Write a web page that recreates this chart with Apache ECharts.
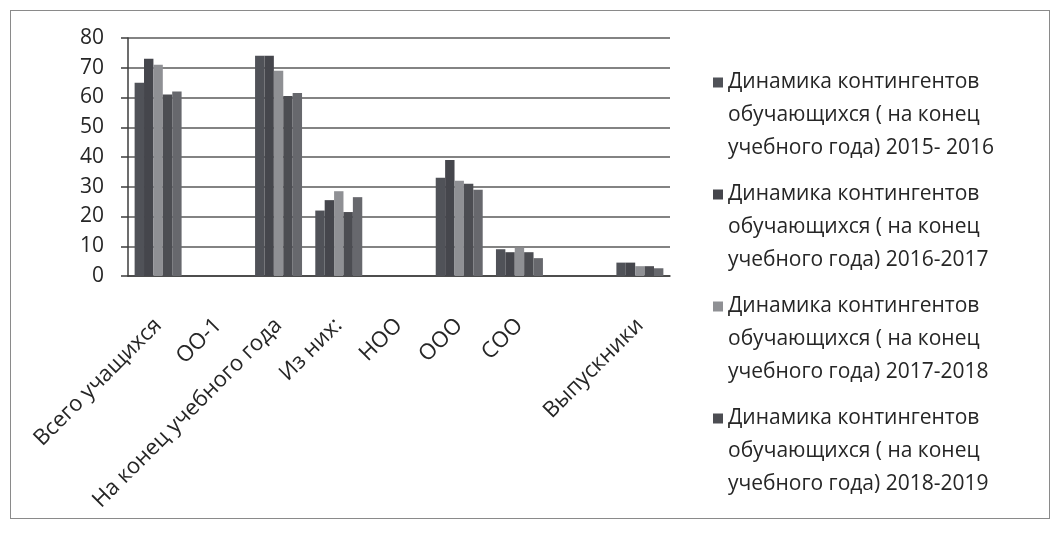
<!DOCTYPE html>
<html>
<head>
<meta charset="utf-8">
<script src="https://cdn.jsdelivr.net/npm/echarts@6/dist/echarts.min.js"></script>
<style>
html, body { margin: 0; padding: 0; background: #fff; }
#chart { width: 1057px; height: 548px; }
.frame { position: absolute; left: 10px; top: 10px; width: 1038px; height: 507px; border: 1.5px solid #8a8a8a; pointer-events: none; }
</style>
</head>
<body>
<div id="chart"></div>
<div class="frame"></div>
<script>
// categories on the x axis (the 8th one has no label in the source)
const categories = ['Всего учащихся', 'ОО-1', 'На конец учебного года', 'Из них:', 'НОО', 'ООО', 'СОО', '', 'Выпускники'];

const seriesNames = [
  'Динамика контингентов обучающихся ( на конец учебного года) 2015- 2016',
  'Динамика контингентов обучающихся ( на конец учебного года) 2016-2017',
  'Динамика контингентов обучающихся ( на конец учебного года) 2017-2018',
  'Динамика контингентов обучающихся ( на конец учебного года) 2018-2019',
  'Динамика контингентов обучающихся ( на конец учебного года) 2019-2020'
];

// values (null = no bar)
const values2015 = [65, null, 74, 22, null, 33, 9, null, 4.5];
const values2016 = [73, null, 74, 25.5, null, 39, 8, null, 4.5];
const values2017 = [71, null, 69, 28.5, null, 32, 9.5, null, 3.3];
const values2018 = [61, null, 60.5, 21.5, null, 31, 8, null, 3.3];
const values2019 = [62, null, 61.5, 26.5, null, 29, 6, null, 2.6];

const yTicks = { min: 0, max: 80, interval: 10 };

const barColors = ['#505258', '#45464c', '#8f9094', '#4c4d52', '#67686d'];
const font = 'Open Sans';

const allValues = [values2015, values2016, values2017, values2018, values2019];

const chart = echarts.init(document.getElementById('chart'));
chart.setOption({
  animation: false,
  backgroundColor: '#fff',
  grid: { left: 128, top: 38, width: 542, height: 238, outerBoundsMode: 'none' },
  legend: {
    data: seriesNames.slice(0, 4),
    orient: 'vertical',
    left: 713,
    top: 0,
    padding: 0,
    itemWidth: 10,
    itemHeight: 10,
    itemGap: -53,
    icon: 'rect',
    // two empty lines on top so the marker sits level with the first text line
    formatter: (name) => '\n\n' + name.replace(' обучающихся', '\nобучающихся').replace(' учебного', '\nучебного'),
    textStyle: { fontFamily: font, fontSize: 21, lineHeight: 33, color: '#262626' }
  },
  xAxis: {
    type: 'category',
    data: categories,
    axisLine: { lineStyle: { color: '#3c3c3c', width: 1.5 } },
    axisTick: { length: 8, lineStyle: { color: '#3c3c3c', width: 1.5 } },
    axisLabel: { rotate: 45, margin: 46, interval: 0, fontFamily: font, fontSize: 22, color: '#262626' }
  },
  yAxis: {
    type: 'value',
    min: yTicks.min,
    max: yTicks.max,
    interval: yTicks.interval,
    axisLine: { show: true, lineStyle: { color: '#3c3c3c', width: 1.5 } },
    axisTick: { show: true, length: 7, lineStyle: { color: '#3c3c3c', width: 1.5 } },
    axisLabel: { margin: 24, fontFamily: font, fontSize: 21, color: '#262626' },
    splitLine: { lineStyle: { color: '#5a5a5a', width: 1.5 } }
  },
  series: allValues.map((vals, i) => ({
    name: seriesNames[i],
    type: 'bar',
    data: vals,
    barGap: 0,
    barCategoryGap: '22%',
    itemStyle: { color: barColors[i] }
  }))
});
</script>
</body>
</html>
